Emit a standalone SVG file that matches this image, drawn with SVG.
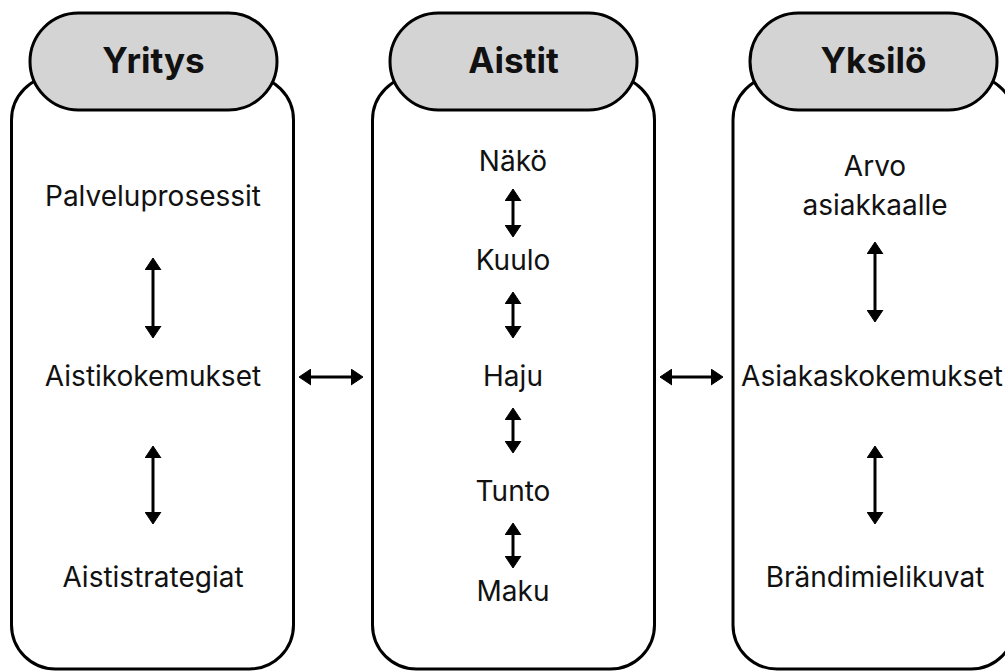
<svg xmlns="http://www.w3.org/2000/svg" width="1005" height="671" viewBox="0 0 1005 671">
<defs>
<style>
.box{fill:#fff;stroke:#000;stroke-width:3}
.pill{fill:#d4d4d4;stroke:#000;stroke-width:3}
.title{font-family:Inter,"Liberation Sans",sans-serif;font-weight:700;font-size:35px;fill:#111;text-anchor:middle}
.lbl{font-family:Inter,"Liberation Sans",sans-serif;font-size:28px;fill:#111;text-anchor:middle}
.arr{stroke:#000;stroke-width:3;fill:none;marker-start:url(#ah);marker-end:url(#ah)}
</style>
<marker id="ah" viewBox="0 0 12 17" refX="6" refY="8.5" markerWidth="12" markerHeight="17" markerUnits="userSpaceOnUse" orient="auto-start-reverse">
<path d="M0,0.5 L12,8.5 L0,16.5 z" fill="#000" stroke="#000" stroke-width="1" stroke-linejoin="round"/>
</marker>
</defs>
<rect width="1005" height="671" fill="#fff"/>
<g id="yritys">
<rect class="box" x="11.5" y="76" width="282" height="593" rx="44"/>
<rect class="pill" x="30" y="13" width="247" height="97" rx="48.5"/>
<text class="title" x="153.5" y="73">Yritys</text>
<text class="lbl" x="153" y="206">Palveluprosessit</text>
<text class="lbl" x="153" y="386">Aistikokemukset</text>
<text class="lbl" x="153" y="587">Aististrategiat</text>
</g>
<g id="aistit">
<rect class="box" x="372.5" y="76" width="282" height="593" rx="44"/>
<rect class="pill" x="390" y="13" width="247" height="97" rx="48.5"/>
<text class="title" x="513.5" y="73">Aistit</text>
<text class="lbl" x="513" y="171">Näkö</text>
<text class="lbl" x="513" y="270">Kuulo</text>
<text class="lbl" x="513" y="386">Haju</text>
<text class="lbl" x="513" y="501">Tunto</text>
<text class="lbl" x="513" y="601">Maku</text>
</g>
<g id="yksilo">
<rect class="box" x="733" y="76" width="282" height="593" rx="44"/>
<rect class="pill" x="750" y="13" width="247" height="97" rx="48.5"/>
<text class="title" x="873.5" y="73">Yksilö</text>
<text class="lbl" x="875" y="176">Arvo</text>
<text class="lbl" x="875" y="215">asiakkaalle</text>
<text class="lbl" x="872" y="386">Asiakaskokemukset</text>
<text class="lbl" x="875" y="587">Brändimielikuvat</text>
</g>
<g id="connectors">
<path class="arr" d="M153,264 V332"/>
<path class="arr" d="M153,452 V518"/>
<path class="arr" d="M513,195 V231"/>
<path class="arr" d="M513,298 V332"/>
<path class="arr" d="M513,414 V447"/>
<path class="arr" d="M513,529 V562"/>
<path class="arr" d="M875,248 V316"/>
<path class="arr" d="M875,452 V518"/>
<path class="arr" d="M305,377 H357"/>
<path class="arr" d="M666,377 H717"/>
</g>
</svg>
